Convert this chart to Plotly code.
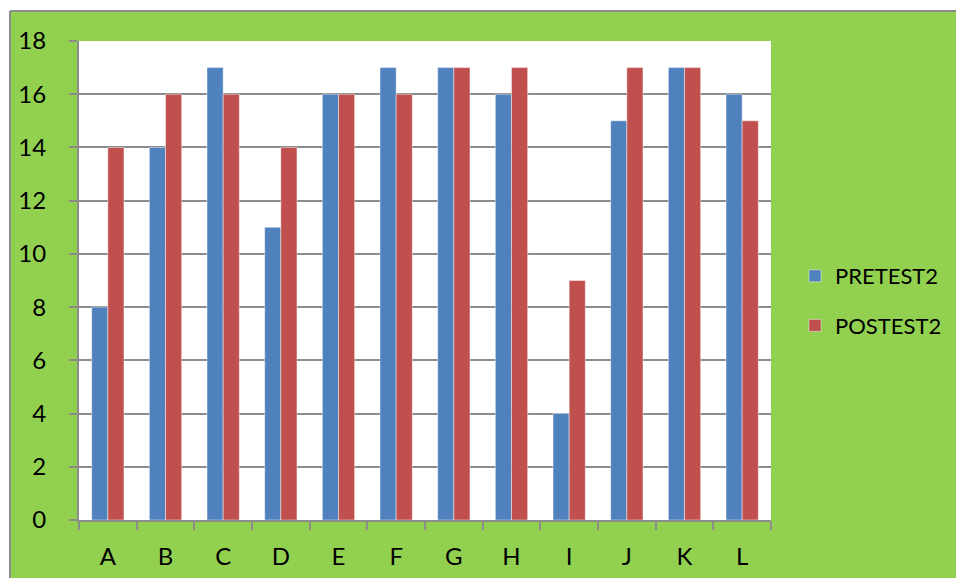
import plotly.graph_objects as go

categories = ["A", "B", "C", "D", "E", "F", "G", "H", "I", "J", "K", "L"]
pretest2 = [8, 14, 17, 11, 16, 17, 17, 16, 4, 15, 17, 16]
posttest2 = [14, 16, 16, 14, 16, 16, 17, 17, 9, 17, 17, 15]
y_ticks = [0, 2, 4, 6, 8, 10, 12, 14, 16, 18]

BLUE = "#4F81BD"
RED = "#C0504D"
GREEN = "#92D050"
GRAY = "#8C8C8C"

W, H = 956, 578
L, R, T, B = 79, 185, 41, 58
pw, ph = W - L - R, H - T - B


def px_x(p):
    return (p - L) / pw


def px_y(p):
    return (H - B - p) / ph


fig = go.Figure()
fig.add_trace(go.Bar(
    x=categories, y=pretest2, name="PRETEST2", legendgroup="a",
    marker=dict(color=BLUE, line=dict(color="rgba(255,255,255,0.45)", width=1)),
))
fig.add_trace(go.Bar(
    x=categories, y=posttest2, name="POSTEST2", legendgroup="b",
    marker=dict(color=RED, line=dict(color="rgba(255,255,255,0.45)", width=1)),
))

font_family = "Lato, Open Sans, sans-serif"

fig.update_layout(
    width=W, height=H,
    margin=dict(l=L, r=R, t=T, b=B, pad=0, autoexpand=False),
    paper_bgcolor=GREEN,
    plot_bgcolor="white",
    barmode="group",
    bargap=0.44,
    bargroupgap=0,
    font=dict(family=font_family, size=24, color="black"),
    showlegend=True,
    legend=dict(
        x=px_x(795), y=px_y(255), xanchor="left", yanchor="top",
        bgcolor="rgba(0,0,0,0)", tracegroupgap=18,
        font=dict(size=22), itemwidth=30,
    ),
    xaxis=dict(
        showline=True, linecolor=GRAY, linewidth=2,
        ticks="outside", ticklen=8, tickcolor=GRAY, tickwidth=2,
        tickson="boundaries", ticklabelstandoff=14,
        showgrid=False, mirror=False, automargin=False,
    ),
    yaxis=dict(
        range=[0, 18], tickvals=y_ticks,
        showline=True, linecolor=GRAY, linewidth=2,
        ticks="outside", ticklen=8, tickcolor=GRAY, tickwidth=2,
        ticklabelstandoff=18, automargin=False,
        showgrid=True, gridcolor=GRAY, gridwidth=1.5,
        zeroline=False,
    ),
)

# White margin strip above and left of the green frame, with the gray frame edge
shapes = [
    dict(type="rect", xref="paper", yref="paper",
         x0=px_x(-5), x1=px_x(W + 5), y0=px_y(11), y1=px_y(-5),
         fillcolor="white", line=dict(width=0), layer="below"),
    dict(type="rect", xref="paper", yref="paper",
         x0=px_x(-5), x1=px_x(10), y0=px_y(H + 5), y1=px_y(-5),
         fillcolor="white", line=dict(width=0), layer="below"),
    dict(type="line", xref="paper", yref="paper",
         x0=px_x(10), x1=px_x(W + 5), y0=px_y(11), y1=px_y(11),
         line=dict(color=GRAY, width=2)),
    dict(type="line", xref="paper", yref="paper",
         x0=px_x(10), x1=px_x(10), y0=px_y(11), y1=px_y(H + 5),
         line=dict(color=GRAY, width=2)),
]
fig.update_layout(shapes=shapes)

fig.write_html("out.html", config={"displayModeBar": False})
